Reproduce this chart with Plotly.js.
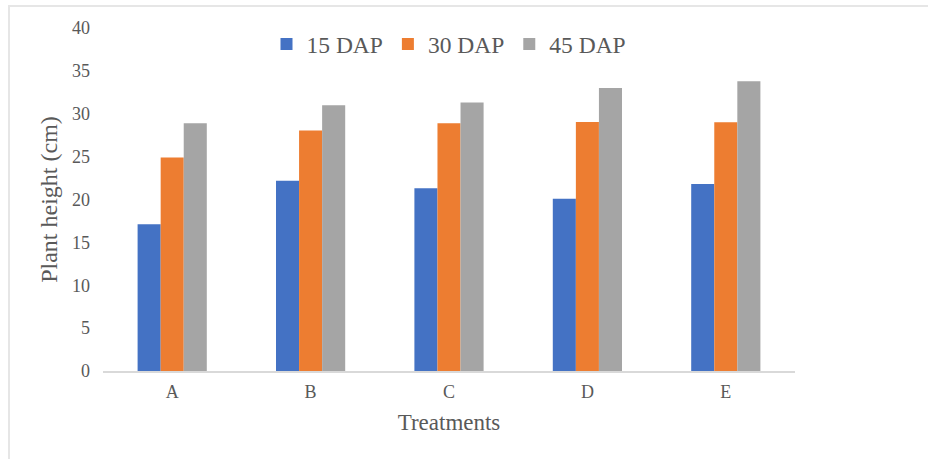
<!DOCTYPE html>
<html>
<head>
<meta charset="utf-8">
<script src="https://cdn.plot.ly/plotly-3.0.1.min.js"></script>
<style>
html,body{margin:0;padding:0;background:#fff;}
#wrap{position:relative;width:928px;height:459px;overflow:hidden;}
#chart{position:absolute;left:0;top:0;width:928px;height:459px;}
#frame{position:absolute;left:8px;top:5px;width:940px;height:470px;border-left:2px solid #e6e6e6;border-top:2px solid #e6e6e6;pointer-events:none;}
</style>
</head>
<body>
<div id="wrap"><div id="chart"></div><div id="frame"></div></div>
<script>
const categories = ["A", "B", "C", "D", "E"];
const dap15 = [17.1, 22.2, 21.3, 20.1, 21.8];
const dap30 = [24.9, 28.05, 28.9, 29.05, 29.0];
const dap45 = [28.9, 31.0, 31.3, 33.0, 33.8];
const seriesNames = ["15 DAP", "30 DAP", "45 DAP"];
const yTicks = [0, 5, 10, 15, 20, 25, 30, 35, 40];

const colors = ["#4472c4", "#ed7d31", "#a5a5a5"];
const values = [dap15, dap30, dap45];
const traces = values.map((v, i) => ({
  type: "bar",
  name: seriesNames[i],
  x: categories,
  y: v,
  marker: {color: colors[i], line: {width: 0}},
  hoverinfo: "x+y+name"
}));

const font = "'Liberation Serif', 'Times New Roman', serif";
const layout = {
  width: 928, height: 459,
  margin: {l: 103, r: 133, t: 28, b: 88},
  paper_bgcolor: "rgba(0,0,0,0)",
  plot_bgcolor: "rgba(0,0,0,0)",
  barmode: "group",
  bargap: 0.5,
  bargroupgap: 0,
  font: {family: font, color: "#595959"},
  showlegend: true,
  legend: {
    orientation: "h", x: 0.5, xanchor: "center", y: 0.953, yanchor: "middle",
    font: {family: font, size: 23.5, color: "#595959"},
    itemwidth: 30, traceorder: "normal", itemclick: false
  },
  xaxis: {
    type: "category",
    showline: true, linecolor: "#d9d9d9", linewidth: 1.5,
    ticks: "", showgrid: false, zeroline: false,
    tickfont: {family: font, size: 18, color: "#595959"},
    ticklabelstandoff: 4,
    title: {text: "Treatments", font: {family: font, size: 23, color: "#595959"}, standoff: 13}
  },
  yaxis: {
    range: [0, 40], tickvals: yTicks, ticktext: yTicks.map(String),
    showgrid: false, zeroline: false, showline: false, ticks: "",
    tickfont: {family: font, size: 18, color: "#595959"},
    ticklabelstandoff: 12,
    title: {text: "Plant height (cm)", font: {family: font, size: 24, color: "#595959"}, standoff: 7}
  }
};

Plotly.newPlot("chart", traces, layout, {displayModeBar: false, responsive: false});
</script>
</body>
</html>
